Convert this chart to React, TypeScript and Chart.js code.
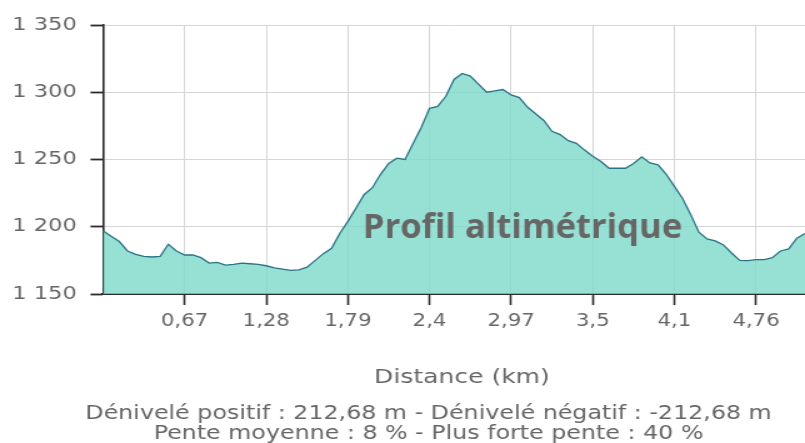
import { useEffect, useRef } from 'react';
import { Chart, registerables } from 'chart.js';

Chart.register(...registerables);

// Elevation samples (m), evenly spaced sample points along the track
const elevations: number[] = [
  1197, 1193, 1189, 1182, 1179.5, 1178, 1177.5, 1178, 1187, 1182,
  1179, 1179, 1177, 1173, 1173.5, 1171.5, 1172, 1173, 1172.5, 1172,
  1171, 1169.5, 1168.5, 1167.5, 1168, 1170, 1175, 1180, 1184, 1195,
  1204, 1214, 1224, 1229, 1239, 1247, 1251, 1250, 1262, 1274,
  1288, 1289.5, 1297, 1309.5, 1314, 1312, 1306, 1300, 1301, 1302,
  1298, 1296, 1289, 1284, 1279, 1271, 1268.5, 1264, 1262, 1257,
  1252.5, 1248.5, 1243.5, 1243.5, 1243.5, 1247, 1252, 1247.5, 1246, 1239,
  1230, 1221, 1209, 1196, 1191, 1189.5, 1186.5, 1180.5, 1175, 1174.8,
  1175.5, 1175.5, 1177, 1182, 1183.5, 1191.5, 1195,
];

// Distance tick labels (km), one every TICK_EVERY samples
const xTickLabels: string[] = ['0,67', '1,28', '1,79', '2,4', '2,97', '3,5', '4,1', '4,76'];
const TICK_EVERY = 10;

const yMin = 1150;
const yMax = 1350;
const yStep = 50;

const chartTitle = 'Profil altimétrique';
const xAxisTitle = 'Distance (km)';
const statsLines: string[] = [
  'Dénivelé positif : 212,68 m - Dénivelé négatif : -212,68 m',
  'Pente moyenne : 8 % - Plus forte pente : 40 %',
];

const categories: string[] = elevations.map((_, i) =>
  i > 0 && i % TICK_EVERY === 0 ? xTickLabels[i / TICK_EVERY - 1] ?? '' : ''
);

const W = 805;
const H = 443;
const SX = 1.25; // horizontal stretch of the original rendering
const CW = Math.round(W / SX);
const FONT = '"DejaVu Sans", Verdana, sans-serif';
const TEXT = '#666666';
const AXIS = '#2b2b2b';
const GRID = '#d6d6d6';

const fmtThousands = (v: number) =>
  String(v).replace(/\B(?=(\d{3})+(?!\d))/g, ' ');

const overlayText = {
  id: 'overlayText',
  afterDatasetsDraw(chart: any) {
    const ctx = chart.ctx as CanvasRenderingContext2D;
    // big title inside the plot (drawn unstretched)
    ctx.save();
    ctx.font = `bold 34.5px "Open Sans", "DejaVu Sans", sans-serif`;
    ctx.fillStyle = TEXT;
    ctx.textAlign = 'center';
    ctx.textBaseline = 'alphabetic';
    ctx.translate(522.5 / SX, 238);
    ctx.scale(1 / SX, 1);
    ctx.fillText(chartTitle, 0, 0);
    ctx.restore();

    // axis title
    ctx.save();
    ctx.font = `20px ${FONT}`;
    ctx.fillStyle = TEXT;
    ctx.textAlign = 'center';
    ctx.textBaseline = 'middle';
    ctx.fillText(xAxisTitle, 462 / SX, 378);
    // statistics
    ctx.font = `19px ${FONT}`;
    statsLines.forEach((line, i) => {
      ctx.fillText(line, 428.5 / SX, 414.5 + i * 20);
    });
    ctx.restore();
  },
};

export default function App() {
  const canvasRef = useRef<HTMLCanvasElement | null>(null);

  useEffect(() => {
    if (!canvasRef.current) return;
    const chart = new Chart(canvasRef.current, {
      type: 'line',
      data: {
        labels: categories,
        datasets: [
          {
            data: elevations,
            borderColor: '#2a7387',
            borderWidth: 1.3,
            backgroundColor: 'rgba(124, 216, 201, 0.8)',
            fill: 'start',
            pointRadius: 0,
            tension: 0,
          },
        ],
      },
      options: {
        responsive: false,
        animation: false,
        devicePixelRatio: 1,
        layout: { autoPadding: false, padding: { top: 25, right: 0, bottom: 0, left: 0 } },
        plugins: {
          legend: { display: false },
          tooltip: { enabled: false },
          title: { display: false },
        },
        scales: {
          x: {
            type: 'category',
            offset: false,
            border: { display: true, color: AXIS, width: 2 },
            grid: {
              color: (c: any) => (categories[c.index] ? GRID : 'rgba(0,0,0,0)'),
              tickColor: (c: any) => (categories[c.index] ? AXIS : 'rgba(0,0,0,0)'),
              lineWidth: 1,
              tickLength: 11,
              tickWidth: 1.6,
            },
            ticks: {
              autoSkip: false,
              maxRotation: 0,
              minRotation: 0,
              padding: 6,
              color: TEXT,
              font: { family: FONT, size: 17 },
              callback: (_v: any, i: number) => categories[i],
            },
            afterFit: (s: any) => {
              s.height = H - 294;
              s.paddingLeft = 0;
              s.paddingRight = 0;
            },
          },
          y: {
            min: yMin,
            max: yMax,
            border: { display: true, color: AXIS, width: 1.6 },
            grid: {
              color: GRID,
              tickColor: AXIS,
              lineWidth: 1,
              tickLength: 10,
              tickWidth: 1.8,
            },
            ticks: {
              stepSize: yStep,
              padding: 11,
              color: TEXT,
              font: { family: FONT, size: 18 },
              callback: (v: any) => fmtThousands(Number(v)),
            },
            afterFit: (s: any) => {
              s.width = 103 / SX;
            },
          },
        },
      },
      plugins: [overlayText],
    });
    return () => chart.destroy();
  }, []);

  return (
    <div
      style={{
        position: 'absolute',
        left: 0,
        top: 0,
        width: W,
        height: H,
        overflow: 'hidden',
        background: '#fff',
      }}
    >
      <canvas
        ref={canvasRef}
        width={CW}
        height={H}
        style={{ width: `${W}px`, height: `${H}px`, display: 'block' }}
      />
    </div>
  );
}
